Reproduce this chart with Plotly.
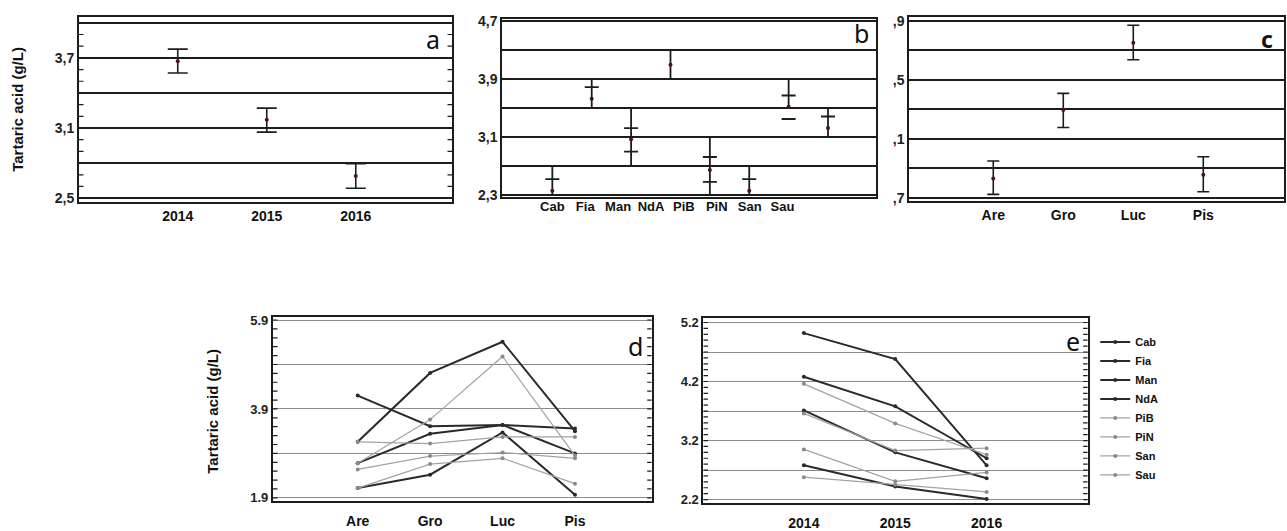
import plotly.graph_objects as go

# ---- (a) tartaric acid by vintage: mean and interval limits ----
years = ["2014", "2015", "2016"]
year_mean = [3.67, 3.17, 2.69]
year_low = [3.57, 3.065, 2.585]
year_high = [3.775, 3.27, 2.795]

# ---- (b) by cultivar ----
cultivars = ["Cab", "Fia", "Man", "NdA", "PiB", "PiN", "San", "Sau"]
cult_mean = [2.36, 3.63, 3.07, 4.10, 2.645, 2.36, 3.52, 3.225]
cult_cap_high = [2.52, 3.79, 3.225, None, 2.825, 2.52, 3.675, 3.385]
cult_cap_low = [None, None, 2.90, None, 2.48, None, 3.35, None]
cult_bar_low = [2.3, 3.5, 2.7, 3.9, 2.3, 2.3, 3.5, 3.1]
cult_bar_high = [2.7, 3.9, 3.5, 4.3, 3.1, 2.7, 3.9, 3.5]

# ---- (c) by area ----
areas = ["Are", "Gro", "Luc", "Pis"]
area_mean = [2.83, 3.295, 3.75, 2.855]
area_low = [2.722, 3.176, 3.635, 2.74]
area_high = [2.948, 3.407, 3.869, 2.977]

# ---- (d) cultivar x area interaction ----
d_Cab = [2.12, 2.42, 3.37, 1.97]
d_Fia = [4.20, 3.51, 3.54, 3.46]
d_Man = [2.68, 3.34, 3.54, 2.90]
d_NdA = [3.16, 4.71, 5.41, 3.40]
d_PiB = [2.54, 2.84, 2.92, 2.79]
d_PiN = [2.12, 2.66, 2.79, 2.22]
d_San = [2.68, 3.66, 5.08, 2.85]
d_Sau = [3.16, 3.12, 3.27, 3.27]

# ---- (e) cultivar x vintage interaction ----
e_Cab = [2.78, 2.42, 2.21]
e_Fia = [4.28, 3.78, 2.90]
e_Man = [3.71, 3.00, 2.56]
e_NdA = [5.02, 4.58, 2.78]
e_PiB = [3.05, 2.51, 2.66]
e_PiN = [2.58, 2.45, 2.33]
e_San = [4.16, 3.49, 2.96]
e_Sau = [3.66, 3.03, 3.07]

# y grid lines and labelled values per panel
a_grid = [2.5, 2.8, 3.1, 3.4, 3.7, 4.0]
a_text = ["2,5", "", "3,1", "", "3,7", ""]
b_grid = [2.3, 2.7, 3.1, 3.5, 3.9, 4.3, 4.7]
b_text = ["2,3", "", "3,1", "", "3,9", "", "4,7"]
c_grid = [2.7, 2.9, 3.1, 3.3, 3.5, 3.7, 3.9]
c_text = [",7", "", ",1", "", ",5", "", ",9"]
d_grid = [1.9, 2.9, 3.9, 4.9, 5.9]
d_text = ["1.9", "", "3.9", "", "5.9"]
e_grid = [2.2, 2.7, 3.2, 3.7, 4.2, 4.7, 5.2]
e_text = ["2.2", "", "3.2", "", "4.2", "", "5.2"]

INK = "#1c1c1c"
DARK = "#2a2a2a"
GRAY = "#a3a3a3"
DOT = "#4a1414"
FONT = "Liberation Sans"

d_series = [d_Cab, d_Fia, d_Man, d_NdA, d_PiB, d_PiN, d_San, d_Sau]
e_series = [e_Cab, e_Fia, e_Man, e_NdA, e_PiB, e_PiN, e_San, e_Sau]
series_dark = [True, True, True, True, False, False, False, False]

fig = go.Figure()

# (a) means with intervals
fig.add_trace(go.Scatter(
    x=years, y=year_mean, mode="markers", xaxis="x", yaxis="y",
    marker=dict(size=4, color=DOT),
    error_y=dict(type="data", symmetric=False,
                 array=[h - m for h, m in zip(year_high, year_mean)],
                 arrayminus=[m - l for m, l in zip(year_mean, year_low)],
                 color=INK, thickness=1.6, width=10),
    showlegend=False, hoverinfo="skip"))

# (b) interval bars, caps and means
stem_x, stem_y = [], []
for c, lo, hi in zip(cultivars, cult_bar_low, cult_bar_high):
    stem_x += [c, c, None]
    stem_y += [lo, hi, None]
fig.add_trace(go.Scatter(x=stem_x, y=stem_y, mode="lines", xaxis="x2", yaxis="y2",
                         line=dict(color=INK, width=1.8), showlegend=False,
                         hoverinfo="skip"))
cap_x, cap_y = [], []
for c, lo, hi in zip(cultivars, cult_cap_low, cult_cap_high):
    for v in (lo, hi):
        if v is not None:
            cap_x.append(c)
            cap_y.append(v)
fig.add_trace(go.Scatter(x=cap_x, y=cap_y, mode="markers", xaxis="x2", yaxis="y2",
                         marker=dict(symbol="line-ew-open", size=10, color=INK,
                                     line=dict(color=INK, width=1.8)),
                         showlegend=False, hoverinfo="skip"))
fig.add_trace(go.Scatter(x=cultivars, y=cult_mean, mode="markers", xaxis="x2", yaxis="y2",
                         marker=dict(size=4, color=DOT), showlegend=False,
                         hoverinfo="skip"))
# carrier for the cultivar labels axis
fig.add_trace(go.Scatter(x=cultivars, y=[None] * len(cultivars), mode="markers",
                         xaxis="x6", yaxis="y2", showlegend=False, hoverinfo="skip"))

# (c) means with intervals
fig.add_trace(go.Scatter(
    x=areas, y=area_mean, mode="markers", xaxis="x3", yaxis="y3",
    marker=dict(size=4, color=DOT),
    error_y=dict(type="data", symmetric=False,
                 array=[h - m for h, m in zip(area_high, area_mean)],
                 arrayminus=[m - l for m, l in zip(area_mean, area_low)],
                 color=INK, thickness=1.6, width=6),
    showlegend=False, hoverinfo="skip"))

# (d) and (e) interaction lines
for name, vals, dark in zip(cultivars, d_series, series_dark):
    fig.add_trace(go.Scatter(
        x=areas, y=vals, mode="lines+markers", xaxis="x4", yaxis="y4", name=name,
        line=dict(color=DARK if dark else GRAY, width=2.0 if dark else 1.2),
        marker=dict(size=4, color=DARK if dark else "#8a8a8a"),
        showlegend=False, hoverinfo="skip"))
for name, vals, dark in zip(cultivars, e_series, series_dark):
    fig.add_trace(go.Scatter(
        x=years, y=vals, mode="lines+markers", xaxis="x5", yaxis="y5", name=name,
        line=dict(color=DARK if dark else GRAY, width=2.0 if dark else 1.2),
        marker=dict(size=4, color=DARK if dark else "#8a8a8a"),
        showlegend=True, hoverinfo="skip"))


def fine_ticks(tick_x, yname, grid, step, frac):
    """Short inside tick marks on both vertical edges, drawn on a 0-1 helper x axis."""
    n = int(round((grid[-1] - grid[0]) / step))
    xs, ys = [], []
    for i in range(n + 1):
        v = round(grid[0] + i * step, 3)
        xs += [0, frac, None, 1 - frac, 1, None]
        ys += [v, v, None, v, v, None]
    fig.add_trace(go.Scatter(x=xs, y=ys, mode="lines", xaxis=tick_x, yaxis=yname,
                             line=dict(color=INK, width=1.2), cliponaxis=False,
                             showlegend=False, hoverinfo="skip"))


fine_ticks("x7", "y", a_grid, 0.1, 0.012)
fine_ticks("x8", "y4", d_grid, 0.2, 0.012)
fine_ticks("x9", "y5", e_grid, 0.1, 0.012)


def xcat(domain, cats, rng, anchor, labels=True, size=14, standoff=None):
    ax = dict(domain=domain, anchor=anchor, type="category",
              categoryorder="array", categoryarray=cats, range=rng,
              showgrid=False, zeroline=False, ticks="",
              showline=True, linecolor=INK, linewidth=2, mirror=True,
              showticklabels=labels,
              tickfont=dict(family=FONT, size=size, color="#111111", weight="bold"))
    if standoff is not None:
        ax["ticklabelstandoff"] = standoff
    return ax


def xhelper(over, anchor):
    return dict(overlaying=over, anchor=anchor, range=[0, 1], visible=False,
                showgrid=False, zeroline=False)


def yval(domain, rng, anchor, grid, text, gridcolor, gridwidth, size=14):
    return dict(domain=domain, anchor=anchor, range=rng, zeroline=False,
                tickmode="array", tickvals=grid, ticktext=text, ticks="",
                showgrid=True, gridcolor=gridcolor, gridwidth=gridwidth,
                showline=True, linecolor=INK, linewidth=2, mirror=True,
                tickfont=dict(family=FONT, size=size, color="#222222", weight="bold"))


fig.update_layout(
    width=1287, height=531,
    margin=dict(l=0, r=0, t=0, b=0),
    paper_bgcolor="white", plot_bgcolor="white",
    font=dict(family=FONT, color="#111111"),
    xaxis=xcat([0.0614, 0.3512], years, [-1.109, 3.081], "y"),
    yaxis=yval([0.6202, 0.9768], [2.463, 4.049], "x", a_grid, a_text, INK, 1.6),
    xaxis7=xhelper("x", "y"),
    xaxis2=xcat([0.3903, 0.6807], cultivars, [-1.27, 8.22], "y2", labels=False),
    yaxis2=yval([0.6309, 0.9736], [2.273, 4.736], "x2", b_grid, b_text, INK, 1.6),
    xaxis6=dict(overlaying="x2", anchor="y2", side="bottom", type="category",
                categoryorder="array", categoryarray=cultivars, range=[-1.521, 9.844],
                showgrid=False, zeroline=False, showline=False, ticks="",
                tickfont=dict(family=FONT, size=13, color="#111111", weight="bold")),
    xaxis3=xcat([0.7065, 0.9979], areas, [-1.2, 4.157], "y3"),
    yaxis3=yval([0.6234, 0.9768], [2.678, 3.925], "x3", c_grid, c_text, INK, 1.6),
    xaxis4=xcat([0.2121, 0.5064], areas, [-1.17, 4.06], "y4", standoff=6),
    yaxis4=yval([0.0458, 0.4006], [1.825, 5.975], "x4", d_grid, d_text, "#8c8c8c", 1.3,
                size=13),
    xaxis8=xhelper("x4", "y4"),
    xaxis5=xcat([0.5465, 0.8452], years, [-1.10, 3.107], "y5", standoff=6),
    yaxis5=yval([0.0414, 0.3974], [2.134, 5.27], "x5", e_grid, e_text, "#8c8c8c", 1.3,
                size=13),
    xaxis9=xhelper("x5", "y5"),
    legend=dict(x=0.851, y=0.38, xanchor="left", yanchor="top",
                bgcolor="rgba(0,0,0,0)", borderwidth=0, tracegroupgap=0,
                itemwidth=30,
                font=dict(family=FONT, size=11, color="#111111", weight="bold")),
)

annotations = [
    dict(text="Tartaric acid (g/L)", x=0.014, y=0.7985, textangle=-90,
         font=dict(family=FONT, size=15, color="#111111", weight="bold")),
    dict(text="Tartaric acid (g/L)", x=0.165, y=0.2185, textangle=-90,
         font=dict(family=FONT, size=15, color="#111111", weight="bold")),
    dict(text="a", x=0.3364, y=0.934, font=dict(family="Noto Sans", size=25, color="#111111")),
    dict(text="b", x=0.6695, y=0.946, font=dict(family="Noto Sans", size=25, color="#111111")),
    dict(text="c", x=0.9842, y=0.934,
         font=dict(family="Noto Sans", size=23, color="#111111", weight="bold")),
    dict(text="d", x=0.4934, y=0.3446, font=dict(family="Noto Sans", size=25, color="#111111")),
    dict(text="e", x=0.8340, y=0.3535, font=dict(family="Noto Sans", size=25, color="#111111")),
]
for a in annotations:
    a.update(xref="paper", yref="paper", showarrow=False, xanchor="center", yanchor="middle")
fig.update_layout(annotations=annotations)

fig.write_html("out.html")
